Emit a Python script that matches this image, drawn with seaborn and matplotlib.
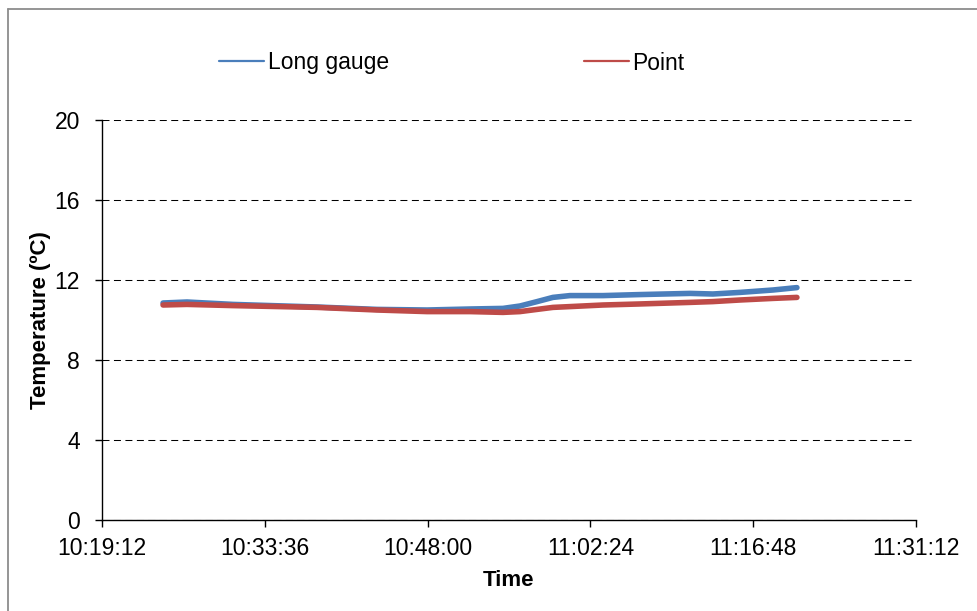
import matplotlib
matplotlib.use("Agg")
import matplotlib.pyplot as plt
import matplotlib.dates as mdates
from matplotlib.lines import Line2D
import seaborn as sns
import pandas as pd

# ---------------- data ----------------
day = "2000-01-01 "

blue_times = ["10:24:36", "10:26:43", "10:30:47", "10:38:13", "10:43:31",
              "10:47:57", "10:51:45", "10:54:40", "10:56:10", "10:57:41",
              "10:59:05", "11:00:35", "11:03:31", "11:06:40", "11:11:13",
              "11:13:14", "11:15:38", "11:18:33", "11:20:40"]
blue_values = [10.85, 10.90, 10.78, 10.65, 10.53,
               10.50, 10.55, 10.58, 10.70, 10.92,
               11.13, 11.22, 11.22, 11.27, 11.33,
               11.30, 11.38, 11.50, 11.62]

red_times = ["10:24:36", "10:26:43", "10:30:47", "10:38:13", "10:43:31",
             "10:47:57", "10:51:45", "10:54:40", "10:56:10", "10:57:41",
             "10:59:05", "11:00:35", "11:03:31", "11:06:40", "11:11:13",
             "11:13:14", "11:15:38", "11:18:33", "11:20:40"]
red_values = [10.75, 10.78, 10.72, 10.63, 10.50,
              10.42, 10.42, 10.38, 10.42, 10.53,
              10.63, 10.67, 10.75, 10.80, 10.88,
              10.92, 11.00, 11.08, 11.13]

series_names = ["Long gauge", "Point"]
series_colors = ["#4A7EBB", "#BE4B48"]

x_tick_labels = ["10:19:12", "10:33:36", "10:48:00", "11:02:24", "11:16:48", "11:31:12"]
y_ticks = [0, 4, 8, 12, 16, 20]

# ---------------- frame ----------------
df = pd.concat([
    pd.DataFrame({"Time": pd.to_datetime([day + t for t in blue_times]),
                  "Temp": blue_values, "Series": series_names[0]}),
    pd.DataFrame({"Time": pd.to_datetime([day + t for t in red_times]),
                  "Temp": red_values, "Series": series_names[1]}),
], ignore_index=True)

sns.set_style("white")
plt.rcParams["font.family"] = ["Liberation Sans", "DejaVu Sans"]
plt.rcParams["text.color"] = "black"
plt.rcParams["axes.labelcolor"] = "black"

fig = plt.figure(figsize=(9.78, 6.11), dpi=100)
ax = fig.add_axes([102 / 978, 1 - 520 / 611, 814 / 978, 400 / 611])

sns.lineplot(data=df, x="Time", y="Temp", hue="Series",
             palette=dict(zip(series_names, series_colors)),
             estimator=None, sort=False, linewidth=4.0, ax=ax, legend=False)

xt = pd.to_datetime([day + t for t in x_tick_labels])
ax.set_xlim(xt[0], xt[-1])
ax.set_xticks(xt)
ax.xaxis.set_major_formatter(mdates.DateFormatter("%H:%M:%S"))
ax.set_ylim(0, 20)
ax.set_yticks(y_ticks)

ax.yaxis.grid(True, color="black", linestyle=(0, (6.7, 4.3)), linewidth=0.75)
ax.xaxis.grid(False)
ax.set_axisbelow(True)

for s in ["top", "right"]:
    ax.spines[s].set_visible(False)
for s in ["left", "bottom"]:
    ax.spines[s].set_color("black")
    ax.spines[s].set_linewidth(1.0)

ax.tick_params(axis="both", direction="out", length=5, width=1.0,
               color="black", labelsize=16.5, labelcolor="black",
               bottom=True, left=True, top=False, right=False)
ax.tick_params(axis="y", pad=11)
ax.tick_params(axis="x", pad=7)

ax.set_xlabel("Time", fontsize=16, fontweight="bold", color="black")
ax.set_ylabel("Temperature (ºC)", fontsize=16, fontweight="bold", color="black")
ax.xaxis.set_label_coords(0.5, -0.125)
ax.yaxis.set_label_coords(-0.063, 0.5)

handles = [Line2D([], [], color=c, linewidth=1.6) for c in series_colors]
leg = fig.legend(handles, series_names, loc="center left",
                 bbox_to_anchor=(219 / 978, 1 - 63 / 611), ncol=2, frameon=False,
                 handlelength=1.96, handletextpad=0.17, columnspacing=8.5,
                 borderpad=0, borderaxespad=0, fontsize=16.5)
for t in leg.get_texts():
    t.set_color("black")

# outer chart border (left and top visible in the reference)
fig.add_artist(Line2D([8 / 978, 1.0], [1 - 9 / 611, 1 - 9 / 611],
                      transform=fig.transFigure, color="#8C8C8C", linewidth=1.3))
fig.add_artist(Line2D([8 / 978, 8 / 978], [0.0, 1 - 9 / 611],
                      transform=fig.transFigure, color="#8C8C8C", linewidth=1.3))

fig.savefig("out.png", dpi=100, facecolor="white")
